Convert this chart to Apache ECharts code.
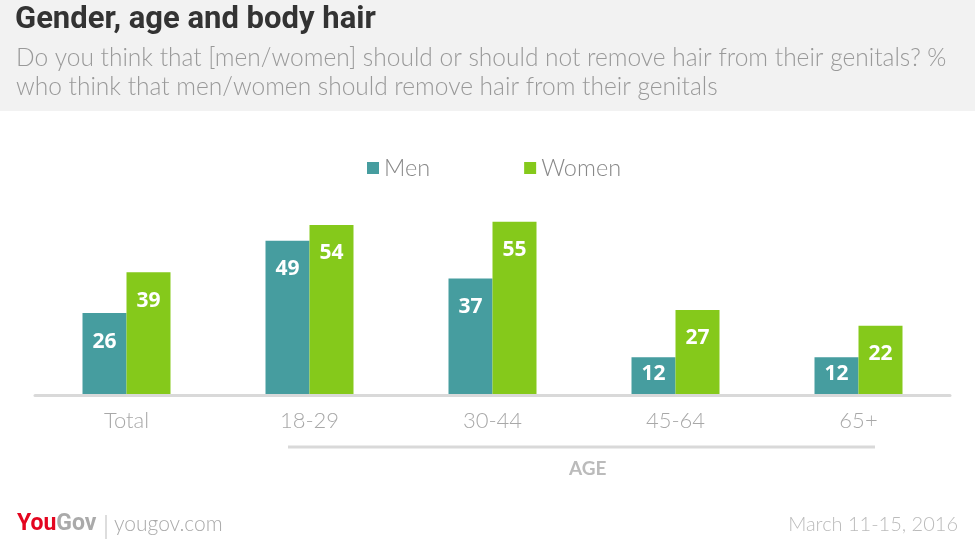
<!DOCTYPE html>
<html>
<head>
<meta charset="utf-8">
<script src="https://cdn.jsdelivr.net/npm/echarts@6/dist/echarts.min.js"></script>
<style>html,body{margin:0;padding:0;background:#fff;}#c{width:975px;height:548px;}</style>
</head>
<body>
<div id="c"></div>
<script>
const categories = ['Total', '18-29', '30-44', '45-64', '65+'];
const menValues = [26, 49, 37, 12, 12];
const womenValues = [39, 54, 55, 27, 22];
const seriesNames = ['Men', 'Women'];

const MEN_COLOR = '#469d9f';
const WOMEN_COLOR = '#85c91b';

function toData(arr) {
  return arr.map(v => v < 15 ? { value: v, label: { distance: 6 } } : { value: v });
}

const labelStyle = {
  show: true,
  position: 'insideTop',
  distance: 18,
  color: '#fff',
  fontSize: 21,
  fontWeight: 'bold',
  fontFamily: 'Open Sans'
};

const chart = echarts.init(document.getElementById('c'), null, { renderer: 'canvas' });
chart.setOption({
  backgroundColor: '#fff',
  animation: false,
  grid: { left: 35, right: 25, top: 143, bottom: 153, containLabel: false },
  legend: {
    data: seriesNames,
    left: 362,
    top: 151,
    icon: 'rect',
    itemWidth: 12,
    itemHeight: 12,
    itemGap: 94,
    textStyle: { color: '#888', fontSize: 23.5, fontFamily: 'Lato', fontWeight: 300 }
  },
  xAxis: {
    type: 'category',
    data: categories,
    z: 10,
    axisTick: { show: false },
    axisLine: { lineStyle: { color: '#d9d9d9', width: 3 } },
    axisLabel: { color: '#a8a8a8', fontSize: 22, fontFamily: 'Lato', fontWeight: 300, margin: 15 }
  },
  yAxis: { type: 'value', min: 0, max: 80, show: false, splitLine: { show: false } },
  series: [
    { name: seriesNames[0], type: 'bar', data: toData(menValues), barWidth: 44, barGap: '0%', itemStyle: { color: MEN_COLOR }, label: labelStyle },
    { name: seriesNames[1], type: 'bar', data: toData(womenValues), barWidth: 44, barGap: '0%', itemStyle: { color: WOMEN_COLOR }, label: labelStyle }
  ],
  graphic: [
    { type: 'rect', left: 0, top: 0, z: -10, shape: { width: 975, height: 111 }, style: { fill: '#f2f2f2' } },
    { type: 'text', left: 15, top: 5, style: { text: 'Gender, age and body hair', fill: '#333', font: 'bold 31px Roboto' } },
    { type: 'text', left: 16, top: 46, style: { text: 'Do you think that [men/women] should or should not remove hair from their genitals? %', fill: '#999', font: '300 24.5px Lato' } },
    { type: 'text', left: 16, top: 75, style: { text: 'who think that men/women should remove hair from their genitals', fill: '#999', font: '300 24.5px Lato' } },
    { type: 'line', shape: { x1: 288, y1: 447, x2: 875, y2: 447 }, style: { stroke: '#d9d9d9', lineWidth: 3 } },
    { type: 'text', left: 569, top: 459, style: { text: 'AGE', fill: '#bbb', font: 'bold 19px Lato' } },
    { type: 'text', left: 17, top: 513, style: {
        text: '{a|You}{b|Gov}',
        rich: {
          a: { fill: '#e4051f', font: 'bold 23px Roboto' },
          b: { fill: '#aaa', font: 'bold 23px Roboto' }
        } } },
    { type: 'line', shape: { x1: 106, y1: 515, x2: 106, y2: 539 }, style: { stroke: '#bbb', lineWidth: 1 } },
    { type: 'text', left: 114, top: 514, style: { text: 'yougov.com', fill: '#aaa', font: '300 21px Lato' } },
    { type: 'text', right: 17, top: 515, style: { text: 'March 11-15, 2016', fill: '#bbb', font: '300 20px Lato' } }
  ]
});
</script>
</body>
</html>
